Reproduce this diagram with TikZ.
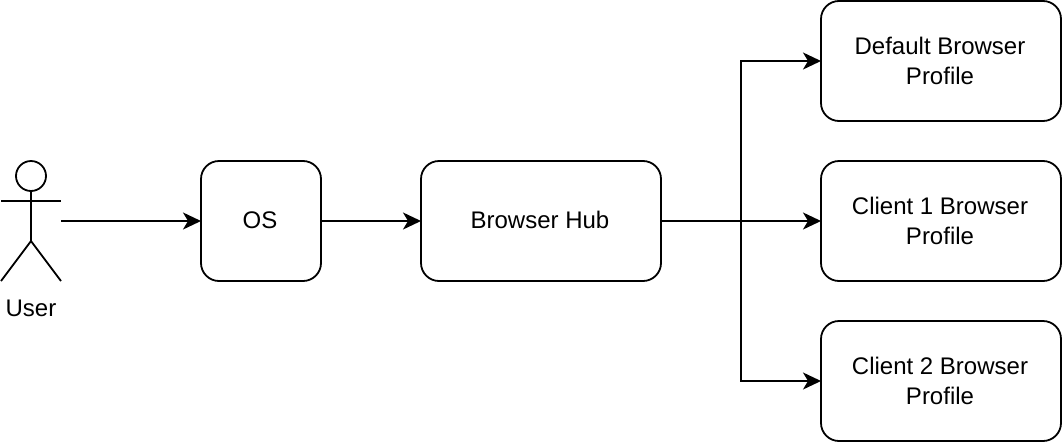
\documentclass[tikz,border=0pt]{standalone}
\usepackage{fontspec}
\setmainfont{Liberation Sans}
\usepackage{xcolor}
\usetikzlibrary{positioning, arrows.meta, calc}
\tikzset{
  x=1pt, y=1pt,
  roundbox/.style={draw=black, line width=1.8pt, rounded corners=18pt, align=center, font=\fontsize{24}{30}\selectfont, inner sep=0pt, outer sep=0pt},
  link/.style={draw=black, line width=1.8pt, -{Stealth[length=18pt,width=17pt,inset=5pt]}},
  stickman/.style={draw=black, line width=1.8pt}
}
\begin{document}
\begin{tikzpicture}[y=-1pt]
    \useasboundingbox (0,0) rectangle (1062,442);
    \node[roundbox, text depth=2pt, minimum width=120pt, minimum height=120pt] (os) at (261,221) {\hspace*{-2pt}OS};
    \node[roundbox, text depth=2pt, minimum width=240pt, minimum height=120pt] (hub) at (541,221) {\hspace*{-2pt}Browser Hub};
    \node[roundbox, minimum width=240pt, minimum height=120pt] (default) at (941,61) {\hspace*{-2pt}Default Browser\\\hspace*{-2pt}Profile};
    \node[roundbox, minimum width=240pt, minimum height=120pt] (client1) at (941,221) {\hspace*{-2pt}Client 1 Browser\\\hspace*{-2pt}Profile};
    \node[roundbox, minimum width=240pt, minimum height=120pt] (client2) at (941,381) {\hspace*{-2pt}Client 2 Browser\\\hspace*{-2pt}Profile};
    % user figure
    \node[stickman, circle, minimum size=30pt, inner sep=0pt] (head) at (31,176) {};
    \coordinate (hip) at (31,241);
    \coordinate (userright) at (61,221);
    \draw[stickman] (head.south) -- (hip);
    \draw[stickman] (1,201) -- (61,201);
    \draw[stickman] (1,281) -- (hip) -- (61,281);
    \node[font=\fontsize{24}{30}\selectfont] (user) at (31,308) {User};
    % links
    \draw[link] (userright) -- (os);
    \draw[link] (os) -- (hub);
    \draw[link] (hub) -- (client1);
    \draw[link] (hub.east) -- ++(80,0) |- (default.west);
    \draw[link] (hub.east) -- ++(80,0) |- (client2.west);
\end{tikzpicture}
\end{document}
